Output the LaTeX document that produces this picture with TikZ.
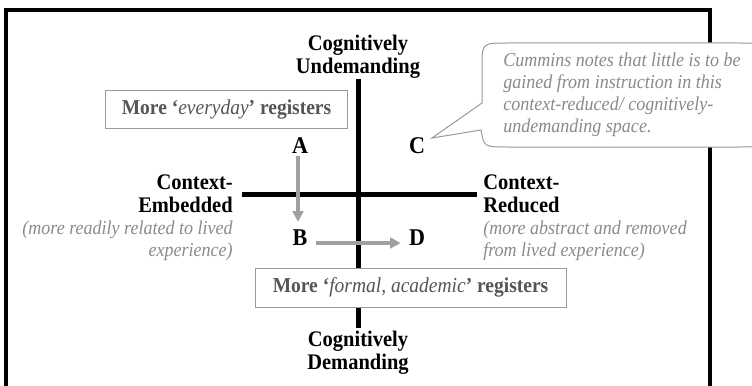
\documentclass[tikz,border=0pt]{standalone}
\usepackage{fontspec}
\setmainfont{Liberation Serif}[FakeStretch=0.92]
\usetikzlibrary{arrows.meta}
\definecolor{notegray}{HTML}{8A8A8A}
\definecolor{boxgray}{HTML}{9A9A9A}
\definecolor{boxtext}{HTML}{555555}
\definecolor{arrowgray}{HTML}{A0A0A0}
\begin{document}
\begin{tikzpicture}[x=0.75pt,y=-0.75pt,
  boldlbl/.style={font=\fontsize{16.7}{17.3}\selectfont\bfseries, inner sep=0},
  notelbl/.style={font=\fontsize{14.7}{16.5}\selectfont\itshape, text=notegray, inner sep=0},
  letter/.style={font=\fontsize{18}{20}\selectfont\bfseries, inner sep=0},
  regbox/.style={draw=boxgray, fill=white, line width=0.75pt, text=boxtext,
    font=\fontsize{15.9}{17}\selectfont\bfseries, inner sep=0},
  axis/.style={line width=3.75pt},
  flow/.style={draw=arrowgray, line width=3pt, -{Triangle[width=8pt,length=8pt]}},
  callout/.style={draw=boxgray, fill=white, line width=0.75pt}
  ]
\useasboundingbox (0,0) rectangle (752,385);
\clip (0,0) rectangle (752,385);
% frame
\draw[line width=2.4pt] (6,400) -- (6,10) -- (710,10) -- (710,400);
% axes
\coordinate (vtop) at (358,79);
\coordinate (vbot) at (358,328);
\coordinate (hleft) at (242,194);
\coordinate (hright) at (477,194);
\draw[axis] (vtop) -- (vbot);
\draw[axis] (hleft) -- (hright);
% register boxes
\node[regbox, minimum width=182pt, minimum height=28.5pt] (everyday) at (226.5,109)
  {More `\textmd{\itshape everyday}' registers};
\node[regbox, minimum width=233.25pt, minimum height=29.25pt] (formal) at (410.5,287.5)
  {More `\textmd{\itshape formal, academic}' registers};
% axis labels
\node[boldlbl, align=center] (undem) at (358,56.5) {Cognitively\\Undemanding};
\node[boldlbl, align=center] (dem) at (358,352.5) {Cognitively\\Demanding};
\node[boldlbl, align=right, anchor=east] (embedded) at (233,193.5) {Context-\\Embedded};
\node[notelbl, align=right, anchor=east] (embnote) at (233,241) {(more readily related to lived\\experience)};
\node[boldlbl, align=left, anchor=west] (reduced) at (483,193.5) {Context-\\Reduced};
\node[notelbl, align=left, anchor=west] (rednote) at (483,241) {(more abstract and removed\\from lived experience)};
% letters
\node[letter] (A) at (300,146) {A};
\node[letter] (B) at (300,238) {B};
\node[letter] (C) at (417,146) {C};
\node[letter] (D) at (417,238) {D};
% arrows
\draw[flow, shorten <=1pt, shorten >=6pt] ([xshift=-1.5pt]A.south) -- ([xshift=-1.5pt]B.north);
\draw[flow, shorten <=6.5pt, shorten >=6pt] ([yshift=-3.75pt]B.east) -- ([yshift=-3.75pt]D.west);
% callout
\coordinate (ctip) at (432,138);
\draw[callout] (482,103) -- (482,66) .. controls (482,43) .. (508,43) -- (738,43)
  .. controls (764,43) .. (764,68) -- (764,122) .. controls (764,147) .. (738,147)
  -- (508,147) .. controls (484,147) .. (481,130) -- (ctip) -- cycle;
\node[notelbl, align=left, anchor=west] (note) at (503,95)
  {Cummins notes that little is to be\\gained from instruction in this\\context-reduced/ cognitively-\\undemanding space.};
\end{tikzpicture}
\end{document}
